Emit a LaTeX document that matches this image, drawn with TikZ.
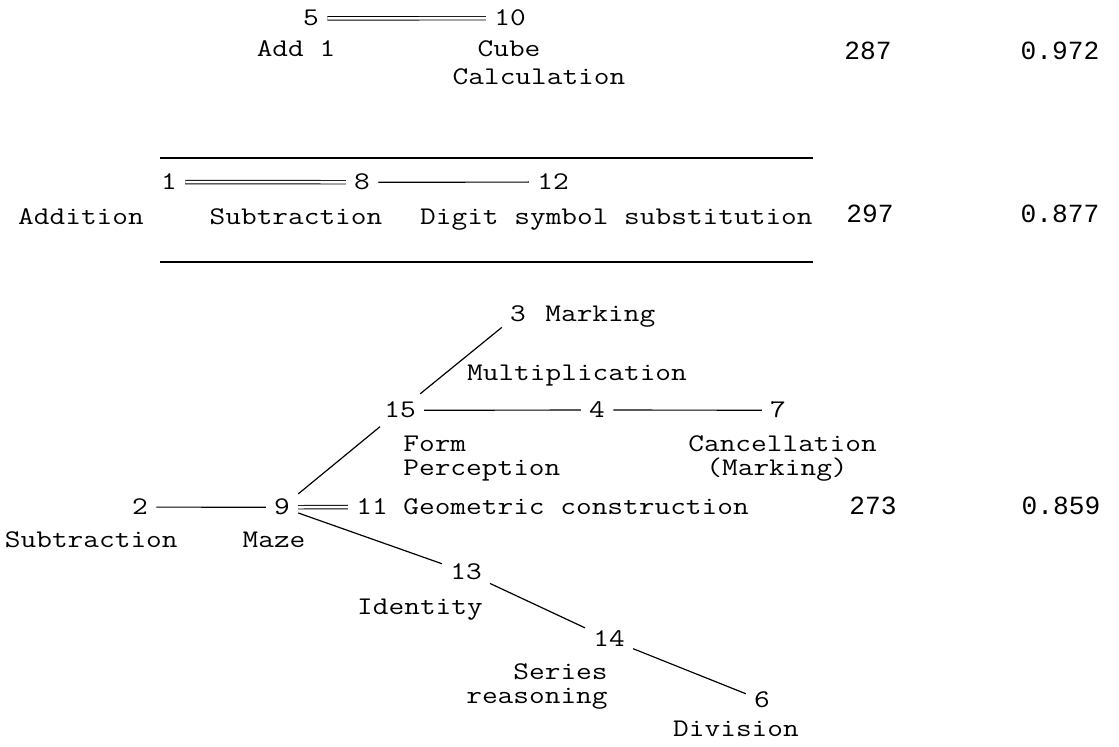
\documentclass[tikz,border=0pt]{standalone}
\usepackage{fontspec}
\newfontfamily\courfont{Latin Modern Mono}[FakeStretch=1.2]
\newfontfamily\colfont{Liberation Mono}
\usetikzlibrary{positioning}
\begin{document}
\begin{tikzpicture}[x=0.5pt,y=-0.5pt,
  lbl/.style={anchor=base,inner sep=0pt,font=\courfont\fontsize{12.7}{15}\selectfont},
  num/.style={lbl,inner sep=4pt},
  val/.style={anchor=base,inner sep=0pt,font=\colfont\fontsize{13.1}{15}\selectfont},
  link/.style={line width=0.6pt},
  dlink/.style={double,double distance=1.3pt,line width=0.45pt}]
 \useasboundingbox (0,0) rectangle (1119,747);
% first factor
 \node[num] (n5) at (311,26) {5};
 \node[num] (n10) at (510,26) {10};
 \draw[dlink] (n5) -- (n10);
 \node[lbl] (add1) at (296,57) {Add 1};
 \node[lbl] (cube) at (509,57) {Cube};
 \node[lbl] (calc) at (539,85) {Calculation};
 \node[val] (ev1) at (868,60) {287};
 \node[val] (pr1) at (1060,60) {0.972};
 \draw[link] (160,158) coordinate (r1a) -- (813,158) coordinate (r1b);
% second factor
 \node[num] (n1) at (169,190) {1};
 \node[num] (n8) at (362,190) {8};
 \node[num] (n12) at (553,190) {12};
 \draw[dlink] (n1) -- (n8);
 \draw[link] (n8) -- (n12);
 \node[lbl] (addit) at (81,225) {Addition};
 \node[lbl] (subtr) at (296,225) {Subtraction};
 \node[lbl,anchor=base east] (dss) at (813,225) {Digit symbol substitution};
 \node[val] (ev2) at (870,223) {297};
 \node[val] (pr2) at (1060,223) {0.877};
 \draw[link] (160,262) coordinate (r2a) -- (813,262) coordinate (r2b);
% third factor
 \node[num] (n3) at (518,322) {3};
 \node[lbl,anchor=base west] (mark) at (545,322) {Marking};
 \node[lbl] (mult) at (577,381) {Multiplication};
 \node[num] (n15) at (400,418) {15};
 \node[num] (n4) at (597,418) {4};
 \node[num] (n7) at (778,418) {7};
 \draw[link] (n15) -- (n3);
 \draw[link] (n15) -- (n4);
 \draw[link] (n4) -- (n7);
 \node[lbl,anchor=base west] (form) at (403,452) {Form};
 \node[lbl,anchor=base west] (perc) at (403,476) {Perception};
 \node[lbl,anchor=base west] (canc) at (688,452) {Cancellation};
 \node[lbl,anchor=base west] (cmark) at (706,476) {(Marking)};
 \node[num] (n2) at (140,515) {2};
 \node[num] (n9) at (282,515) {9};
 \node[num] (n11) at (372,515) {11};
 \draw[link] (n2) -- (n9);
 \draw[dlink] (n9) -- (n11);
 \draw[link] (n9) -- (n15);
 \node[lbl,anchor=base west] (geom) at (403,515) {Geometric construction};
 \node[val] (ev3) at (873,515) {273};
 \node[val] (pr3) at (1061,515) {0.859};
 \node[lbl,anchor=base east] (subtr2) at (178,548) {Subtraction};
 \node[lbl] (maze) at (274,548) {Maze};
 \node[num] (n13) at (466,580) {13};
 \node[lbl] (ident) at (420,615) {Identity};
 \node[num] (n14) at (609,647) {14};
 \node[lbl,anchor=base east] (series) at (608,680) {Series};
 \node[lbl,anchor=base east] (reas) at (608,704) {reasoning};
 \node[num] (n6) at (762,708) {6};
 \node[lbl] (divis) at (736,737) {Division};
 \draw[link] (n9) -- (n13);
 \draw[link] (n13) -- (n14);
 \draw[link] (n14) -- (n6);
\end{tikzpicture}
\end{document}
